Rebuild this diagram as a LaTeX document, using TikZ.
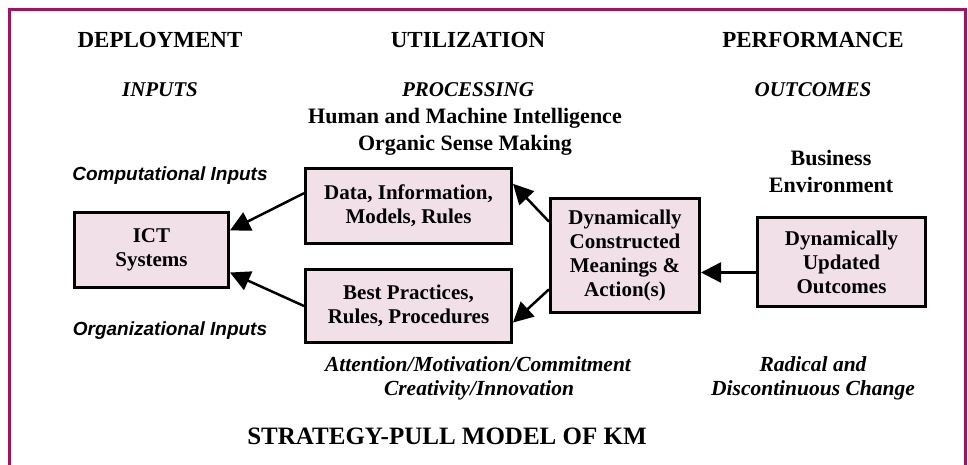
\documentclass[tikz,border=0pt]{standalone}
\usepackage{fontspec}
\setmainfont{Liberation Serif}
\newfontfamily\arialf{Liberation Sans}
\usetikzlibrary{arrows.meta}
\definecolor{framec}{RGB}{160,20,95}
\definecolor{boxfill}{RGB}{242,224,232}
\begin{document}
\begin{tikzpicture}[x=1pt,y=-1pt,
  box/.style={draw=black,line width=3pt,fill=boxfill,inner sep=0pt,align=center,
    font=\fontsize{21}{24}\selectfont\bfseries},
  head/.style={anchor=base,font=\fontsize{23}{26}\selectfont\bfseries},
  ihead/.style={anchor=base,font=\fontsize{21}{24}\selectfont\bfseries\itshape},
  sub/.style={anchor=base,font=\fontsize{22}{26}\selectfont\bfseries},
  sans/.style={anchor=base,font=\fontsize{19}{22}\selectfont\arialf\bfseries\itshape},
  note/.style={anchor=base,font=\fontsize{21.5}{24}\selectfont\bfseries\itshape},
  arr/.style={line width=2.5pt,-{Triangle[length=20pt,width=20pt]}}]
\useasboundingbox (0,0) rectangle (968,465);
\draw[framec,line width=3pt] (9.5,470) -- (9.5,9.5) -- (965.5,9.5) -- (965.5,470);
% headings
\node[head] (dep) at (160,48) {DEPLOYMENT};
\node[head] (uti) at (468,48) {UTILIZATION};
\node[head] (per) at (813,48) {PERFORMANCE};
\node[ihead] (inp) at (160,97) {INPUTS};
\node[ihead] (pro) at (468,97) {PROCESSING};
\node[ihead] (out) at (813,97) {OUTCOMES};
\node[sub] (hum) at (465,124) {Human and Machine Intelligence};
\node[sub] (org) at (465,151) {Organic Sense Making};
\node[sans] (comp) at (170,181) {Computational Inputs};
\node[sans] (orgi) at (170,335) {Organizational Inputs};
\node[sub] (bus) at (831,165) {Business};
\node[sub] (env) at (831,192) {Environment};
% boxes
\node[box,minimum width=154pt,minimum height=75pt] (ict) at (151.5,250) {ICT\\Systems};
\node[box,minimum width=206pt,minimum height=75pt] (data) at (408.5,206) {Data, Information,\\Models, Rules};
\node[box,minimum width=206pt,minimum height=73pt] (best) at (408.5,306) {Best Practices,\\Rules, Procedures};
\node[box,minimum width=149pt,minimum height=114pt] (dyn) at (625,255.5) {Dynamically\\Constructed\\Meanings \&\\Action(s)};
\node[box,minimum width=168pt,minimum height=89pt] (upd) at (841.5,262) {Dynamically\\Updated\\Outcomes};
% arrows
\draw[arr] (data.173) -- (ict.14);
\draw[arr] (best.west) -- (ict.344);
\draw[arr] (dyn.156) -- (data.12);
\draw[arr] (dyn.204) -- (best.351);
\draw[arr] (upd.187) -- (upd.187 -| dyn.east);
% notes
\node[note] (att) at (478,371) {Attention/Motivation/Commitment};
\node[note] (cre) at (479,395) {Creativity/Innovation};
\node[note] (rad) at (813,371) {Radical and};
\node[note] (dis) at (813,395) {Discontinuous Change};
\node[anchor=base,font=\fontsize{25}{28}\selectfont\bfseries] (title) at (447,444) {STRATEGY-PULL MODEL OF KM};
\end{tikzpicture}
\end{document}
